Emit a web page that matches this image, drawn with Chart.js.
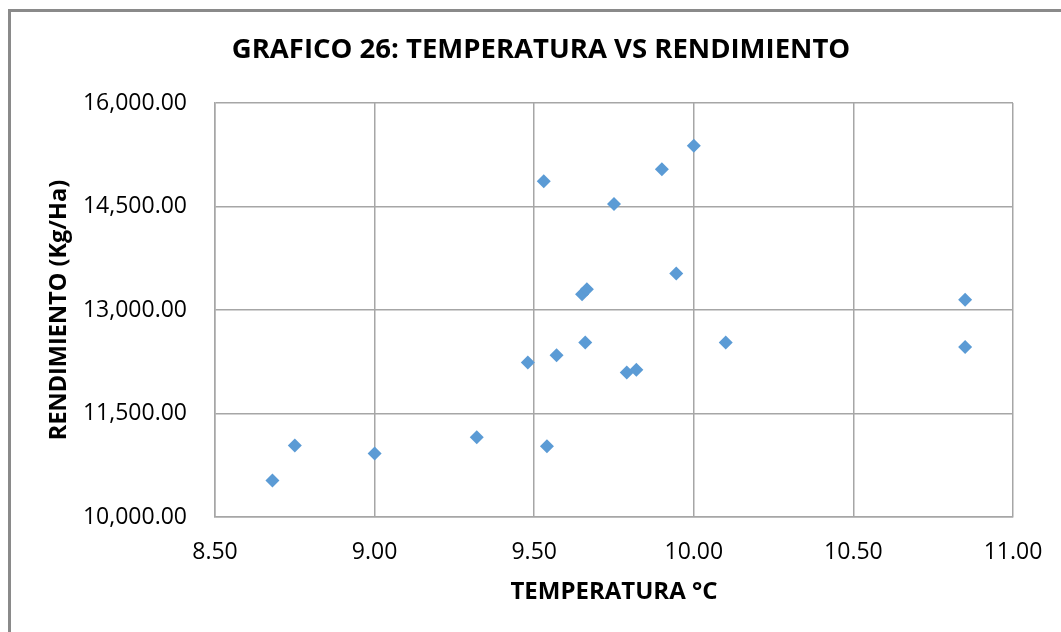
<!DOCTYPE html>
<html>
<head>
<meta charset="utf-8">
<script src="https://cdn.jsdelivr.net/npm/chart.js@4"></script>
<style>
  html, body { margin: 0; padding: 0; background: #fff; }
  #wrap { width: 1061px; height: 632px; }
</style>
</head>
<body>
<div id="wrap"><canvas id="scatter" width="1061" height="632"></canvas></div>
<script>
// temperatura (°C) y rendimiento (Kg/Ha)
var temperatura = [8.68, 8.75, 9.00, 9.32, 9.48, 9.54, 9.53, 9.57, 9.65, 9.665,
                   9.66, 9.75, 9.79, 9.82, 9.90, 9.945, 10.00, 10.10, 10.85, 10.85];
var rendimiento = [10530, 11035, 10920, 11155, 12240, 11025, 14865, 12345, 13230, 13300,
                   12530, 14535, 12095, 12135, 15040, 13530, 15380, 12530, 13150, 12465];

var xTicks = [8.5, 9.0, 9.5, 10.0, 10.5, 11.0];
var yTicks = [10000, 11500, 13000, 14500, 16000];

var titulo = 'GRAFICO 26: TEMPERATURA VS RENDIMIENTO';

var FONT = '"Open Sans", sans-serif';

var points = temperatura.map(function(t, i) {
	return { x: t, y: rendimiento[i] };
});

// white background, outer frame like the excel sheet, and the chart title
var frame = {
	id: 'frame',
	beforeDraw: function(chart) {
		var c = chart.ctx;
		c.save();
		c.fillStyle = '#fff';
		c.fillRect(0, 0, chart.width, chart.height);
		c.strokeStyle = '#8a8a8a';
		c.lineWidth = 3;
		c.beginPath();
		c.moveTo(9.5, chart.height);
		c.lineTo(9.5, 10.5);
		c.lineTo(chart.width, 10.5);
		c.stroke();
		c.restore();
	},
	afterDraw: function(chart) {
		var c = chart.ctx;
		c.save();
		c.fillStyle = '#000';
		c.font = 'bold 27.5px ' + FONT;
		c.textAlign = 'center';
		c.textBaseline = 'middle';
		c.fillText(titulo, 541, 50);
		c.restore();
	}
};

var ctx = document.getElementById('scatter');

new Chart(ctx, {
	type: 'scatter',
	data: {
		datasets: [{
			data: points,
			pointStyle: 'rectRot',
			pointRadius: 7,
			pointHoverRadius: 7,
			backgroundColor: '#5b9bd5',
			borderColor: '#5b9bd5',
			borderWidth: 0
		}]
	},
	options: {
		responsive: false,
		animation: false,
		layout: { padding: { top: 103, left: 12, right: 48, bottom: 0 } },
		plugins: {
			legend: { display: false },
			tooltip: { enabled: false },
			title: { display: false }
		},
		scales: {
			x: {
				type: 'linear',
				min: 8.5,
				max: 11,
				afterBuildTicks: function(axis) {
					axis.ticks = xTicks.map(function(v) { return { value: v }; });
				},
				afterFit: function(axis) {
					axis.height = 115;
					axis.paddingLeft = 0;
					axis.paddingRight = 0;
				},
				grid: { color: '#a6a6a6', lineWidth: 1.5, drawTicks: false },
				border: { color: '#a6a6a6', width: 1.5 },
				ticks: {
					color: '#000',
					padding: 22,
					font: { family: FONT, size: 23 },
					callback: function(v) { return v.toFixed(2); }
				},
				title: {
					display: true,
					text: 'TEMPERATURA °C',
					color: '#000',
					font: { family: FONT, size: 24, weight: 'bold', lineHeight: 1.2 },
					padding: { top: 0, bottom: 25 }
				}
			},
			y: {
				type: 'linear',
				min: 10000,
				max: 16000,
				afterBuildTicks: function(axis) {
					axis.ticks = yTicks.map(function(v) { return { value: v }; });
				},
				afterFit: function(axis) { axis.width = 203; },
				grid: { color: '#a6a6a6', lineWidth: 1.5, drawTicks: false },
				border: { color: '#a6a6a6', width: 1.5 },
				ticks: {
					color: '#000',
					padding: 28,
					font: { family: FONT, size: 23 },
					callback: function(v) {
						return v.toLocaleString('en-US', { minimumFractionDigits: 2, maximumFractionDigits: 2 });
					}
				},
				title: {
					display: true,
					text: 'RENDIMIENTO (Kg/Ha)',
					color: '#000',
					font: { family: FONT, size: 23.5, weight: 'bold', lineHeight: 1.2 },
					padding: { top: 33, bottom: 0 }
				}
			}
		}
	},
	plugins: [frame]
});
</script>
</body>
</html>
